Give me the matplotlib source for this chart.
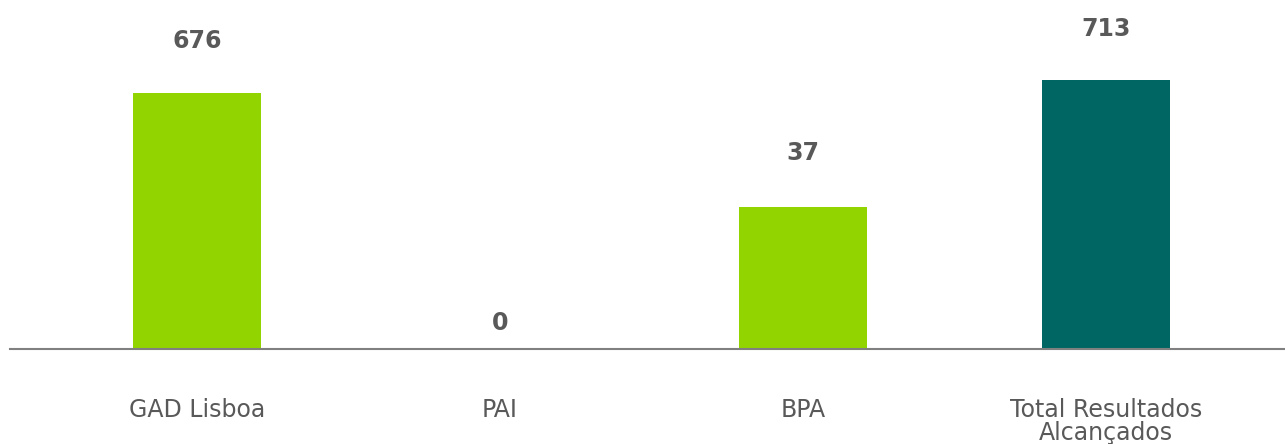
import numpy as np
import matplotlib
matplotlib.use("Agg")
import matplotlib.pyplot as plt

categories = ["GAD Lisboa", "PAI", "BPA", "Total Resultados\nAlcançados"]
values = [676, 0, 37, 713]
is_total = [False, False, False, True]
labels = ["676", "0", "37", "713"]

GREEN = "#92D400"
TEAL = "#006663"
TXT = "#595959"

def fwd(v):
    return np.log10(np.clip(v, 1, None))

def inv(t):
    return 10 ** np.asarray(t, dtype=float)

fig = plt.figure(figsize=(12.85, 4.44), dpi=100)
W, H = 1285, 444
ax = fig.add_axes([10 / W, (H - 349) / H, 1275 / W, 349 / H])
ax2 = ax.twinx()

x = np.arange(len(categories))
for a in (ax, ax2):
    a.set_yscale("function", functions=(fwd, inv))
    for s in ("top", "right", "left", "bottom"):
        a.spines[s].set_visible(False)
    a.set_yticks([])
    a.tick_params(left=False, right=False)
ax.set_xlim(-0.617, 3.59)

ax.set_ylim(0, inv(349 / 90.3))
ax2.set_ylim(0, inv(349 / 94.3))

main_x = [xi for xi, t in zip(x, is_total) if not t]
main_v = [v for v, t in zip(values, is_total) if not t]
tot_x = [xi for xi, t in zip(x, is_total) if t]
tot_v = [v for v, t in zip(values, is_total) if t]

ax.bar(main_x, main_v, width=0.422, color=GREEN, zorder=2)
ax2.bar(tot_x, tot_v, width=0.422, color=TEAL, zorder=2)

ax2.axhline(0, color="#808080", lw=1.5, zorder=3, clip_on=False)

# value labels
offsets = [52, 26, 54, 51]
for xi, v, t, lab, off in zip(x, values, is_total, labels, offsets):
    a = ax2 if t else ax
    a.annotate(lab, (xi, v), xytext=(0, off * 72 / 100), textcoords="offset points",
               ha="center", va="center", fontsize=17, fontweight="bold", color=TXT)

ax.set_xticks(x)
ax.set_xticklabels(categories, fontsize=17, color=TXT, linespacing=0.95)
ax.tick_params(axis="x", length=0, pad=35)

fig.savefig("out.png", dpi=100)
